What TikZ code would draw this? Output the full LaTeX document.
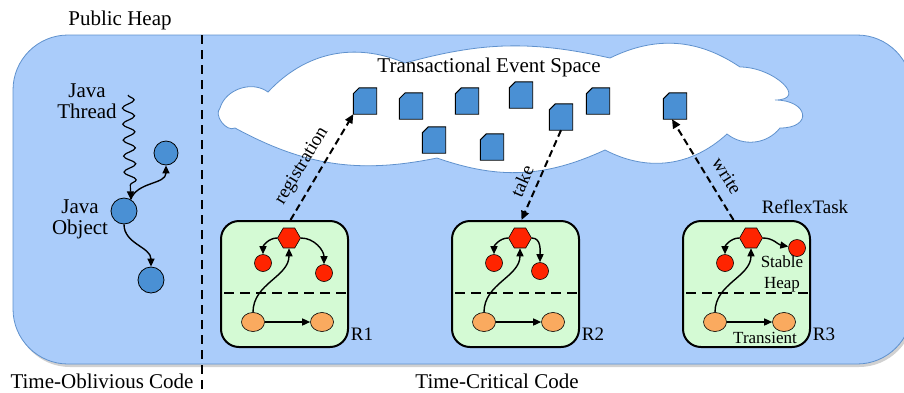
\documentclass[tikz,border=0pt]{standalone}
\usepackage{fontspec}
\setmainfont{Liberation Serif}
\usepackage{tikz}
\usetikzlibrary{arrows.meta, positioning, shapes.geometric, decorations.pathmorphing}

\definecolor{heapblue}{RGB}{170,204,250}
\definecolor{heapedge}{RGB}{95,145,205}
\definecolor{objblue}{RGB}{74,144,212}
\definecolor{taskgreen}{RGB}{212,250,212}
\definecolor{stablered}{RGB}{255,36,0}
\definecolor{transorange}{RGB}{250,170,95}

\newcommand{\bigtxt}{\fontsize{21}{24}\selectfont}
\newcommand{\tagtxt}{\fontsize{19}{22}\selectfont}
\newcommand{\smalltxt}{\fontsize{17}{21}\selectfont}

\begin{document}
\begin{tikzpicture}[x = 1pt, y = -1pt,
  heap/.style = {draw = heapedge, fill = heapblue, line width = 0.8pt, rounded corners = 55pt},
  cloudline/.style = {draw = heapedge, fill = white, line width = 0.8pt},
  event/.style = {minimum width = 23pt, minimum height = 26pt, inner sep = 0pt,
    append after command = {\pgfextra{\filldraw[fill = objblue, line width = 0.9pt]
      ([yshift = -6pt]\tikzlastnode.north west) -- ([xshift = 6pt]\tikzlastnode.north west)
      -- (\tikzlastnode.north east) -- (\tikzlastnode.south east) -- (\tikzlastnode.south west) -- cycle;}}},
  obj/.style = {circle, draw, fill = objblue, line width = 0.8pt, minimum size = #1, inner sep = 0pt},
  taskbox/.style = {draw, fill = taskgreen, line width = 2pt, rounded corners = 18pt, minimum width = 127pt, minimum height = 126pt},
  stable/.style = {circle, draw, fill = stablered, line width = 0.6pt, minimum size = 17pt, inner sep = 0pt},
  stableroot/.style = {regular polygon, regular polygon sides = 6, draw, fill = stablered, line width = 0.6pt, minimum size = 23pt, inner sep = 0pt},
  transient/.style = {ellipse, draw, fill = transorange, line width = 0.6pt, minimum width = 23pt, minimum height = 19pt, inner sep = 0pt},
  conn/.style = {line width = 1.4pt, -{Triangle[length = 8pt, width = 7pt]}},
  msg/.style = {line width = 2pt, dash pattern = on 7pt off 4pt, -{Triangle[length = 9pt, width = 8pt]}},
  divider/.style = {line width = 2pt, dash pattern = on 9pt off 6pt},
  taskcut/.style = {line width = 2pt, dash pattern = on 10pt off 6pt}]
\useasboundingbox (0,0) rectangle (904,392);

% public heap
\fill[black!18, rounded corners = 55pt] (15,38) rectangle (914,367);
\draw[heap] (13,35) rectangle (912,364);
\node[font = \bigtxt] (pubheap) at (120,20) {Public Heap};
\coordinate (divtop) at (202,35);
\coordinate (divbot) at (202,392);
\draw[divider] (divtop) -- (divbot);
\node[font = \bigtxt] (oblivious) at (102,381) {Time-Oblivious Code};
\node[font = \bigtxt] (critical) at (497,381) {Time-Critical Code};

% java side
\node[font = \bigtxt, align = center] (jthreadlab) at (87,101) {Java\\[-3pt]Thread};
\node[font = \bigtxt, align = center] (jobjlab) at (80,219) {Java\\[-3pt]Object};
\node[obj = 26pt] (jobj) at (124,211) {};
\node[obj = 24pt] (jtop) at (166,153) {};
\node[obj = 26pt] (jbot) at (151,280) {};
\coordinate (jthread) at (128,95);
\draw[conn, line width = 1.2pt, decorate, decoration = {snake, amplitude = 6pt, segment length = 16pt, post length = 9pt}] (jthread) -- (jobj.60);
\draw[conn] (jobj.60) to[out = 70, in = -90] (jtop.south);
\draw[conn] (jobj.south) to[out = -90, in = 90] (jbot.north);

% transactional event space
\filldraw[cloudline] (220,108) to[bend left = 55] (268,92) to[bend left = 35] (405,63)
  to[bend left = 14] (610,58) to[bend left = 30] (740,67) to[out = 0, in = 0, looseness = 1.8] (775,100)
  to[out = 0, in = 0, looseness = 3] (780,128) to[bend left = 45] (727,134) to[bend left = 35] (605,150)
  to[bend left = 22] (437,158) to[bend left = 20] (235,128) to[bend left = 80] (220,108) -- cycle;
\node[font = \bigtxt] (teslab) at (489,67) {Transactional Event Space};
\foreach \i/\x/\y in {1/365/101, 2/411/106, 3/467/101, 4/521/95, 5/561/117, 6/598/101, 7/434/140, 8/492/147, 9/675/106}
  \node[event] (ev\i) at (\x,\y) {};

% reflex tasks
\foreach \n/\x/\rx/\ry/\ra in {1/221/103/52/90, 2/452/88/50/90, 3/683/114/27/170} {
  \node[taskbox] (r\n) at (\x+63.5,284) {};
  \draw[taskcut] (\x+3,293) -- (\x+126,293);
  \node[stableroot] (hex\n) at (\x+68,238) {};
  \node[stable] (redl\n) at (\x+42,263) {};
  \node[stable] (redr\n) at (\x+\rx,221+\ry) {};
  \node[transient] (orl\n) at (\x+32,322) {};
  \node[transient] (orr\n) at (\x+101,322) {};
  \draw[conn] (hex\n.west) to[out = 180, in = 90] (redl\n);
  \draw[conn] (hex\n.east) to[out = 0, in = \ra] (redr\n);
  \draw[conn] (orl\n) -- (orr\n);
  \draw[conn] (orl\n.north) to[out = 90, in = -90] (hex\n.south);
  \node[font = \tagtxt] (rlab\n) at (\x+141,334) {R\n};
}
\node[font = \tagtxt] (rtask) at (805,207) {ReflexTask};
\node[font = \smalltxt, align = center] (stablelab) at (782,274) {Stable\\Heap};
\node[font = \smalltxt] (translab) at (765,338) {Transient};

% event space operations
\draw[msg] ([xshift = 6pt]r1.north) -- (ev1.south west);
\draw[msg] (ev5.south) -- ([xshift = 6pt]r2.north);
\draw[msg] ([xshift = -13pt]r3.north) -- ([xshift = -3pt]ev9.south);
\node[font = \tagtxt, rotate = 59] (reglab) at (302,166) {registration};
\node[font = \tagtxt, rotate = 66] (takelab) at (522,181) {take};
\node[font = \tagtxt, rotate = -58] (writelab) at (727,176) {write};
\end{tikzpicture}
\end{document}
